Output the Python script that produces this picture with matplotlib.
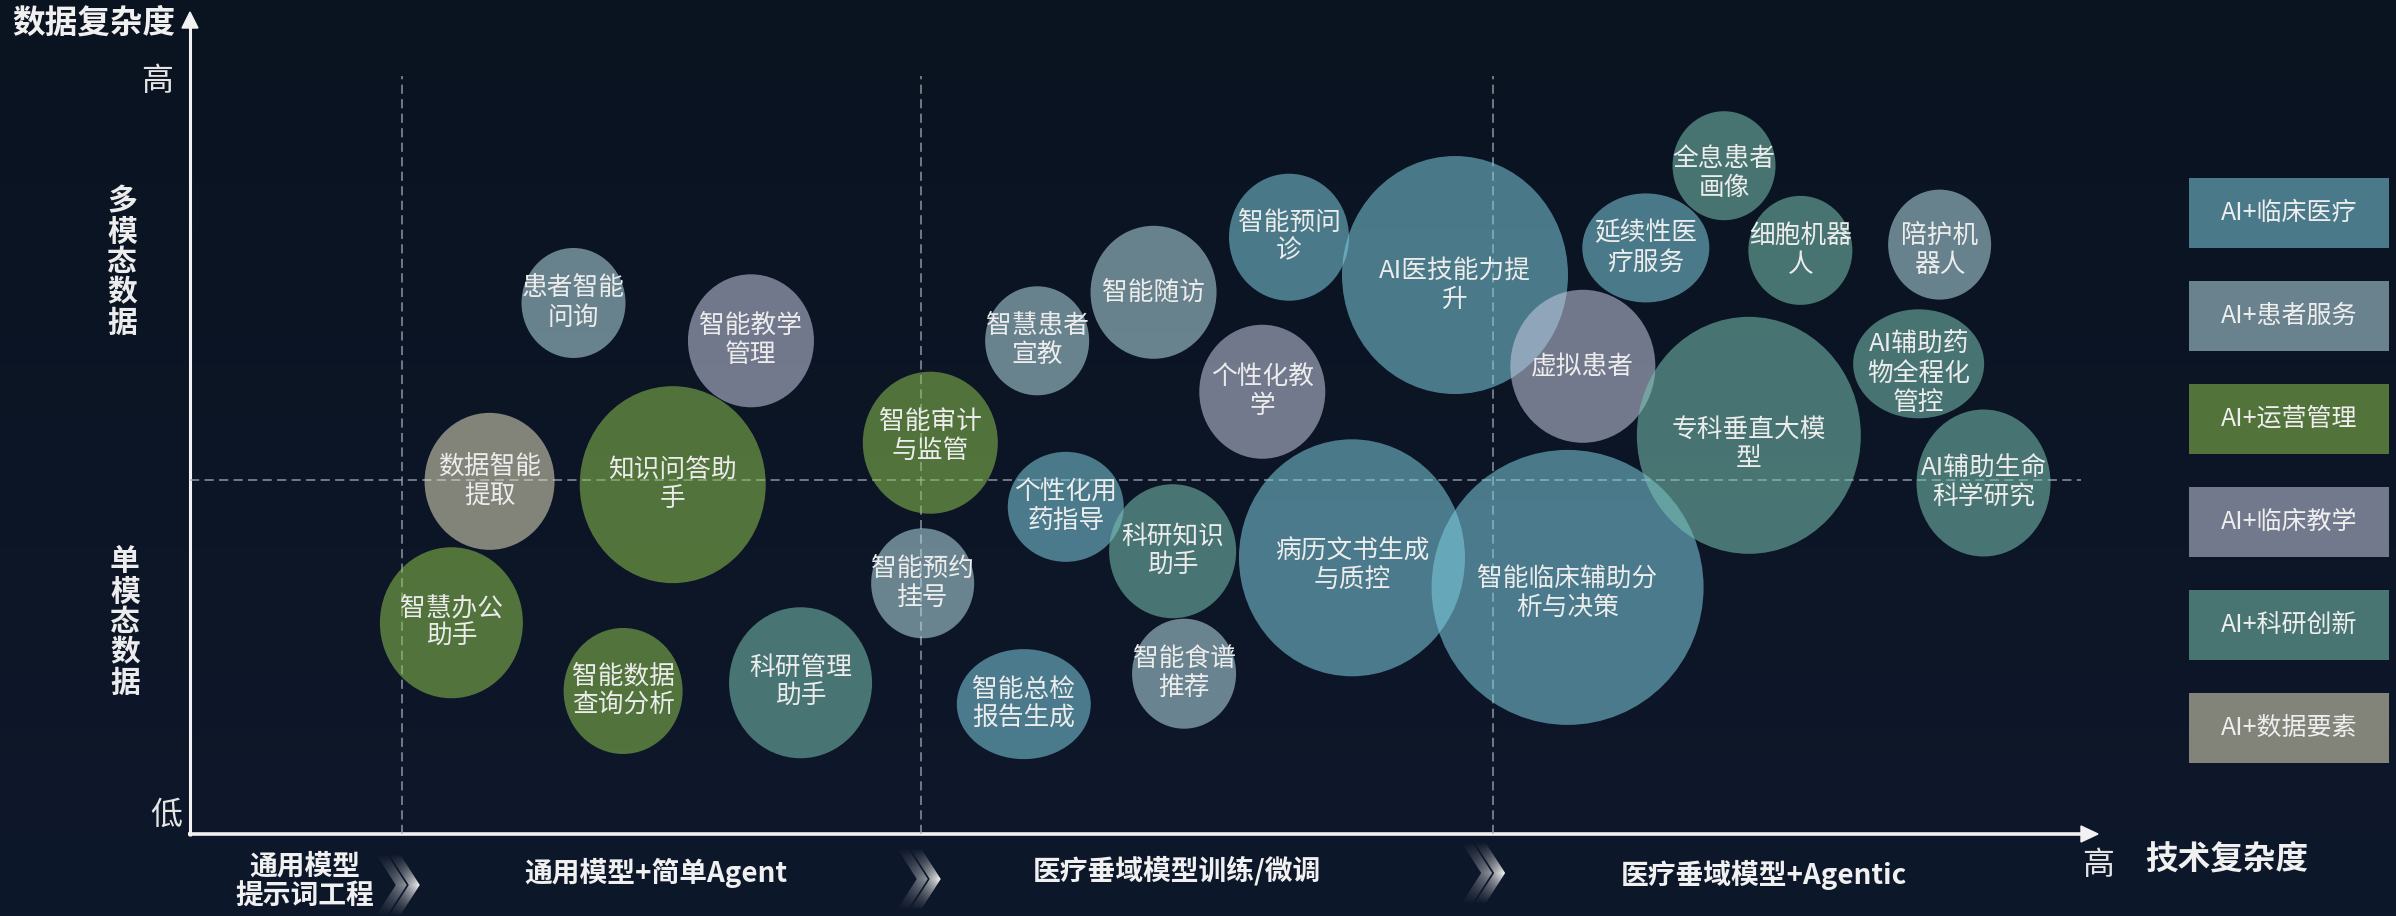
import numpy as np
import matplotlib
matplotlib.use("Agg")
import matplotlib.pyplot as plt
from matplotlib.patches import Ellipse, Rectangle, Polygon
from matplotlib.colors import to_rgb

plt.rcParams['font.family'] = ['Noto Sans CJK SC', 'DejaVu Sans']

# ------------------------------------------------------------------ data
categories = ["AI+临床医疗", "AI+患者服务", "AI+运营管理",
              "AI+临床教学", "AI+科研创新", "AI+数据要素"]
cat_colors = ["#4a7a8a", "#69828e", "#52733a", "#73798c", "#487472", "#838479"]

apps = ["患者智能\n问询", "智能教学\n管理", "知识问答助\n手", "数据智能\n提取",
        "智能审计\n与监管", "智慧办公\n助手", "智能数据\n查询分析", "科研管理\n助手",
        "智能预约\n挂号", "智慧患者\n宣教", "智能随访", "个性化用\n药指导",
        "科研知识\n助手", "智能总检\n报告生成", "智能食谱\n推荐", "智能预问\n诊",
        "个性化教\n学", "AI医技能力提\n升", "病历文书生成\n与质控",
        "智能临床辅助分\n析与决策", "虚拟患者", "延续性医\n疗服务", "全息患者\n画像",
        "细胞机器\n人", "陪护机\n器人", "专科垂直大模\n型", "AI辅助药\n物全程化\n管控",
        "AI辅助生命\n科学研究"]
app_cat = [1, 3, 2, 5, 2, 2, 2, 4, 1, 1, 1, 0, 4, 0, 1, 0,
           3, 0, 0, 0, 3, 0, 4, 4, 1, 4, 4, 4]
tech_complexity = [20.1, 29.4, 25.3, 15.7, 38.8, 13.7, 22.7, 32.0, 38.4, 44.4,
                   50.5, 45.9, 51.5, 43.7, 52.1, 57.6, 56.2, 66.3, 60.9, 72.2,
                   73.0, 76.3, 80.4, 84.4, 91.7, 81.7, 90.6, 94.0]
data_complexity = [64.6, 60.0, 42.5, 42.9, 47.6, 25.7, 17.4, 18.4, 30.5, 60.0,
                   65.9, 39.8, 34.4, 15.8, 19.5, 72.6, 53.8, 68.0, 33.6, 30.0,
                   56.9, 71.3, 81.3, 71.0, 71.7, 48.5, 57.2, 42.7]
bubble_w = [104, 126, 186, 130, 135, 143, 119, 143, 103, 104, 126, 116, 127, 134,
            104, 120, 126, 226, 226, 272, 145, 127, 103, 104, 103, 224, 131, 134]
bubble_h = [110, 133, 197, 137, 142, 151, 126, 151, 110, 109, 133, 110, 134, 110,
            110, 127, 134, 238, 237, 275, 153, 109, 109, 109, 110, 237, 109, 147]

stages = ["通用模型\n提示词工程", "通用模型+简单Agent",
          "医疗垂域模型训练/微调", "医疗垂域模型+Agentic"]
stage_label_x = [6.0, 24.4, 51.7, 82.5]
stage_bounds = [11.1, 38.3, 68.3]
modal_split = 43.1
modal_labels = ["多模态数据", "单模态数据"]
y_levels = ["低", "高"]
x_levels = ["高"]
y_title = "数据复杂度"
x_title = "技术复杂度"

# ------------------------------------------------------------------ figure
W, H = 2396, 916
fig = plt.figure(figsize=(W / 100, H / 100), dpi=100)

# background / decoration axes in pixel coordinates (y downward)
bg = fig.add_axes([0, 0, 1, 1])
bg.set_xlim(0, W)
bg.set_ylim(H, 0)
bg.axis('off')
top_c = np.array(to_rgb("#0a1320"))
bot_c = np.array(to_rgb("#0e182b"))
t = np.linspace(0, 1, 256)[:, None, None]
grad = top_c * (1 - t) + bot_c * t
grad = np.repeat(grad, 2, axis=1)
bg.imshow(grad, extent=[0, W, H, 0], aspect='auto', zorder=0)

BG_RGB = np.array([11, 19, 34]) / 255.0
ALPHA = 0.55

# plot axes (data coordinates 0..100)
ox, oy = 190, 834          # origin in pixels
xe, ye = 2098, 12          # arrow tips
ax = fig.add_axes([ox / W, (H - oy) / H, (xe - ox) / W, (oy - ye) / H])
ax.set_xlim(0, 100)
ax.set_ylim(0, 100)
ax.axis('off')
ax.patch.set_alpha(0)
px_x = (xe - ox) / 100.0
px_y = (oy - ye) / 100.0

def X(v):
    return ox + v * px_x

def Y(v):
    return oy - v * px_y

# dashed guide lines
dash_kw = dict(color="#a3abb5", lw=1.1, dashes=(6, 3.5), alpha=0.85, zorder=1)
top_guide = (oy - 76) / px_y
for b in stage_bounds:
    ax.plot([b, b], [0, top_guide], **dash_kw)
ax.plot([0, (2081 - ox) / px_x], [modal_split, modal_split], **dash_kw)

# bubbles
def fill_color(hexc):
    c = np.array(to_rgb(hexc))
    return tuple(np.clip((c - (1 - ALPHA) * BG_RGB) / ALPHA, 0, 1))

label_dy = {"AI医技能力提\n升": 10, "专科垂直大模\n型": 9, "病历文书生成\n与质控": 8,
            "全息患者\n画像": 8, "AI辅助药\n物全程化\n管控": 10,
            "智能审计\n与监管": -6, "智能临床辅助分\n析与决策": 6, "陪护机\n器人": 6}

for name, c, x, y, w, h in zip(apps, app_cat, tech_complexity, data_complexity,
                               bubble_w, bubble_h):
    e = Ellipse((x, y), w / px_x, h / px_y, facecolor=fill_color(cat_colors[c]),
                edgecolor='none', alpha=ALPHA, zorder=2)
    ax.add_patch(e)
    dy = label_dy.get(name, 0) / px_y
    ax.text(x, y - dy, name, ha='center', va='center', fontsize=18.5,
            color='#ececec', linespacing=1.15, zorder=5)

# axes arrows
line_c = '#f2f2f2'
bg.plot([ox, ox], [oy + 2, ye + 14], color=line_c, lw=2.2, zorder=3,
        solid_capstyle='butt')
bg.add_patch(Polygon([(ox - 8, ye + 16), (ox + 8, ye + 16), (ox, ye)],
                     closed=True, color=line_c, zorder=3))
bg.plot([ox - 2, xe - 15], [oy, oy], color=line_c, lw=2.6, zorder=3,
        solid_capstyle='butt')
bg.add_patch(Polygon([(xe - 17, oy - 8), (xe - 17, oy + 8), (xe, oy)],
                     closed=True, color=line_c, zorder=3))

# axis titles and levels
bg.text(94, 23, y_title, ha='center', va='center', fontsize=23.5,
        fontweight='bold', color='#f0f0f0')
bg.text(2227, 859, x_title, ha='center', va='center', fontsize=23.5,
        fontweight='bold', color='#f0f0f0')
bg.text(157, 81, y_levels[1], ha='center', va='center', fontsize=23,
        color='#e4e4e4')
bg.text(166, 815, y_levels[0], ha='center', va='center', fontsize=23,
        color='#e4e4e4')
bg.text(2098, 865, x_levels[0], ha='center', va='center', fontsize=23,
        color='#e4e4e4')

bg.text(122, 262, "\n".join(modal_labels[0]), ha='center', va='center',
        fontsize=21.5, fontweight='bold', color='#ececec', linespacing=1.02)
bg.text(125, 622, "\n".join(modal_labels[1]), ha='center', va='center',
        fontsize=21.5, fontweight='bold', color='#ececec', linespacing=1.02)

# stage labels
stage_y = [882, 873, 871, 875]
for s, sx, sy in zip(stages, stage_label_x, stage_y):
    bg.text(X(sx), sy, s, ha='center', va='center', fontsize=20,
            fontweight='bold', color='#f0f0f0', linespacing=1.1)

# chevrons between stages
def chevron(tx, ty, h, d, th, peak):
    pts = [(tx - d - th, ty - h / 2), (tx - d, ty - h / 2), (tx, ty),
           (tx - d, ty + h / 2), (tx - d - th, ty + h / 2), (tx - th, ty)]
    poly = Polygon(pts, closed=True, facecolor='none', edgecolor='none')
    bg.add_patch(poly)
    x0, x1 = tx - d - th, tx
    y0, y1 = ty - h / 2, ty + h / 2
    ny, nx = 64, 32
    yy = np.linspace(-1, 1, ny)[:, None]
    xx = np.linspace(0, 1, nx)[None, :]
    a = (1 - np.abs(yy)) ** 0.8 * (0.35 + 0.65 * xx) * peak
    rgba = np.zeros((ny, nx, 4))
    rgba[..., :3] = 0.6 + 0.4 * xx[..., None]
    rgba[..., 3] = a
    im = bg.imshow(rgba, extent=[x0, x1, y1, y0], aspect='auto', zorder=4,
                   interpolation='bilinear')
    im.set_clip_path(poly)

for b, tip_dx, ty in zip(stage_bounds, [18, 20, 12], [885, 879, 873]):
    tx = X(b) + tip_dx
    chevron(tx - 13, ty, 62, 20, 11, 0.55)
    chevron(tx, ty, 62, 20, 11, 0.95)

# legend
for i, (lab, col) in enumerate(zip(categories, cat_colors)):
    cy = 213 + i * 103
    bg.add_patch(Rectangle((2189, cy - 35), 200, 70, facecolor=col,
                           edgecolor='none', zorder=3))
    bg.text(2289, cy, lab, ha='center', va='center', fontsize=18,
            color='#eeeeee', zorder=4)

bg.set_xlim(0, W)
bg.set_ylim(H, 0)
fig.savefig("out.png", dpi=100)
